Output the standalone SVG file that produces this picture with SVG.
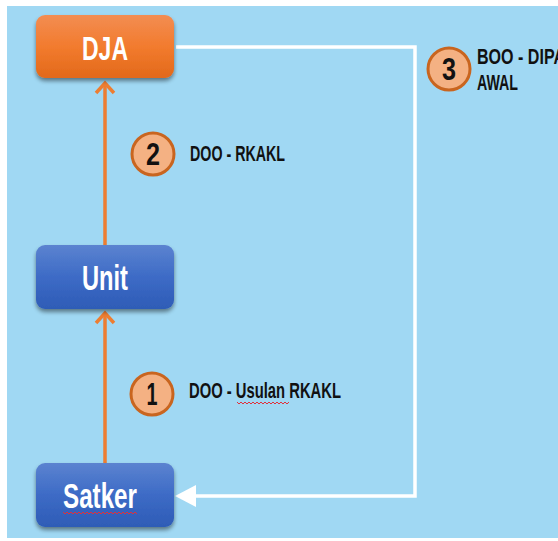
<svg xmlns="http://www.w3.org/2000/svg" width="558" height="541" viewBox="0 0 558 541">
<defs>
<linearGradient id="gO" x1="0" y1="0" x2="0" y2="1"><stop offset="0" stop-color="#F38D52"/><stop offset="0.5" stop-color="#F27B2E"/><stop offset="1" stop-color="#E2691A"/></linearGradient>
<linearGradient id="gB" x1="0" y1="0" x2="0" y2="1"><stop offset="0" stop-color="#5B83D0"/><stop offset="0.5" stop-color="#3D6BC6"/><stop offset="1" stop-color="#2E5CB6"/></linearGradient>
<filter id="sh" x="-10%" y="-10%" width="120%" height="130%"><feGaussianBlur in="SourceAlpha" stdDeviation="2"/><feOffset dy="3"/><feComponentTransfer><feFuncA type="linear" slope="0.45"/></feComponentTransfer><feMerge><feMergeNode/><feMergeNode in="SourceGraphic"/></feMerge></filter>
</defs>
<style>
.box{filter:url(#sh)}
.lbl{font-family:"Liberation Sans","DejaVu Sans",sans-serif;font-weight:bold;fill:#fff;text-anchor:middle}
.t{font-family:"Liberation Sans","DejaVu Sans",sans-serif;font-weight:bold;fill:#111;font-size:22px}
.num{font-family:"Liberation Sans","DejaVu Sans",sans-serif;font-weight:bold;fill:#111;font-size:31px;text-anchor:middle}
.badge{fill:#F4B183;stroke:#C9651F;stroke-width:3}
.or{stroke:#ED7D31;stroke-width:3.5;fill:none}
.wh{stroke:#fff;stroke-width:3.5;fill:none}
.sq{stroke:#E0303A;stroke-width:1;fill:none}
</style>
<rect x="0" y="0" width="558" height="541" fill="#fff"/>
<rect x="7" y="6" width="551" height="532" fill="#A0D8F3"/>
<g id="connectors">
<path class="or" d="M105,463 V313"/>
<path class="or" d="M96,323 L105,313 L114,323"/>
<path class="or" d="M105,245 V83"/>
<path class="or" d="M96,93 L105,83 L114,93"/>
<path class="wh" d="M176,47 H415 V496 H192"/>
<polygon points="175,496 196,485 196,507" fill="#fff"/>
</g>
<g id="dja"><rect class="box" x="36" y="15" width="138" height="63" rx="9" fill="url(#gO)"/><text class="lbl" x="105" y="60" font-size="33" textLength="46" lengthAdjust="spacingAndGlyphs">DJA</text></g>
<g id="unit"><rect class="box" x="36" y="245" width="138" height="64" rx="9" fill="url(#gB)"/><text class="lbl" x="105" y="290" font-size="35" textLength="46" lengthAdjust="spacingAndGlyphs">Unit</text></g>
<g id="satker"><rect class="box" x="36" y="463" width="138" height="64" rx="9" fill="url(#gB)"/><text class="lbl" x="100" y="508" font-size="35" textLength="74" lengthAdjust="spacingAndGlyphs">Satker</text>
<path class="sq" d="M63,512 l2,2 l2,-2 l2,2 l2,-2 l2,2 l2,-2 l2,2 l2,-2 l2,2 l2,-2 l2,2 l2,-2 l2,2 l2,-2 l2,2 l2,-2 l2,2 l2,-2 l2,2 l2,-2 l2,2 l2,-2 l2,2 l2,-2 l2,2 l2,-2 l2,2 l2,-2 l2,2 l2,-2 l2,2 l2,-2 l2,2 l2,-2 l2,2 l2,-2 l2,2"/></g>
<g id="step1"><circle class="badge" cx="152" cy="394" r="21"/><text class="num" x="152" y="405" textLength="11" lengthAdjust="spacingAndGlyphs">1</text>
<text class="t" x="189" y="398" textLength="152" lengthAdjust="spacingAndGlyphs">DOO - Usulan RKAKL</text>
<path class="sq" d="M237,402 l2,2 l2,-2 l2,2 l2,-2 l2,2 l2,-2 l2,2 l2,-2 l2,2 l2,-2 l2,2 l2,-2 l2,2 l2,-2 l2,2 l2,-2 l2,2 l2,-2 l2,2 l2,-2 l2,2 l2,-2 l2,2 l2,-2 l2,2 l2,-2"/></g>
<g id="step2"><circle class="badge" cx="153" cy="154" r="21"/><text class="num" x="153" y="165" textLength="14" lengthAdjust="spacingAndGlyphs">2</text>
<text class="t" x="190" y="161" textLength="95" lengthAdjust="spacingAndGlyphs">DOO - RKAKL</text></g>
<g id="step3"><circle class="badge" cx="449" cy="69" r="21"/><text class="num" x="449" y="80" textLength="14" lengthAdjust="spacingAndGlyphs">3</text>
<text class="t" x="477" y="64" textLength="88" lengthAdjust="spacingAndGlyphs">BOO - DIPA</text>
<text class="t" x="477" y="90" textLength="41" lengthAdjust="spacingAndGlyphs">AWAL</text></g>
</svg>
